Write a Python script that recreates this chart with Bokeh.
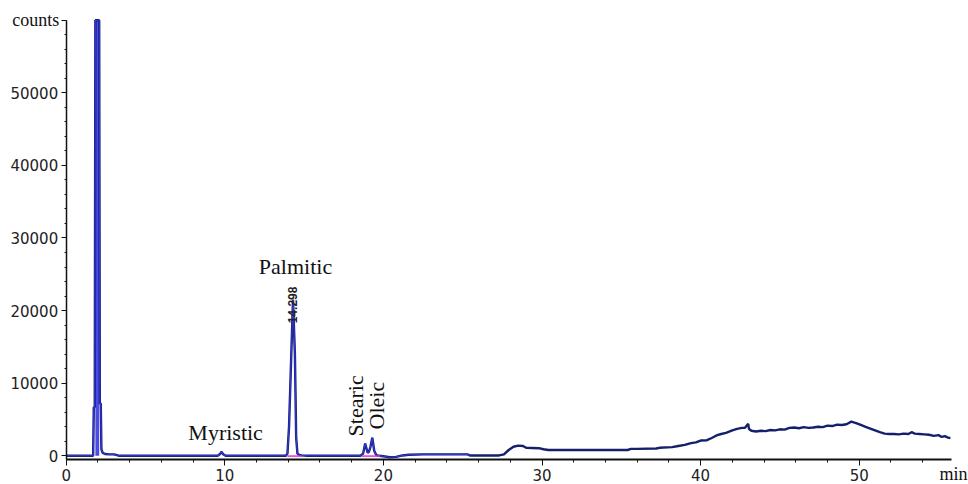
import numpy as np
from bokeh.plotting import figure
from bokeh.models import Label, FixedTicker
from bokeh.embed import file_html
from bokeh.resources import INLINE

# ---- data ----
time_min = [0, 1.0, 1.70, 1.74, 1.80, 1.84, 2.08, 2.12, 2.18, 2.22, 2.30, 2.45, 2.70, 3.00, 3.15, 3.35,
            5.0, 7.0, 9.55, 9.70, 9.80, 9.90, 10.05, 12.0,
            13.85, 13.95, 14.05, 14.15, 14.30, 14.42, 14.50, 14.58, 14.70, 14.85, 15.20, 17.0,
            18.55, 18.72, 18.85, 19.00, 19.08, 19.18, 19.30, 19.42, 19.55, 19.75,
            20.10, 20.40, 20.80, 21.20, 21.60, 22.50, 25.30, 25.45, 27.30, 27.60, 27.90,
            28.20, 28.50, 28.80, 29.00, 29.80, 30.10, 30.40, 35.40, 35.60, 36.00, 37.20,
            37.40, 38.20, 38.60, 39.00, 39.40, 39.70, 40.00, 40.40, 40.70, 41.00, 41.30,
            41.60, 42.00, 42.30, 42.60, 42.80, 43.00, 43.05, 43.20, 43.50, 43.80, 44.10,
            44.40, 44.70, 45.00, 45.30, 45.60, 45.90, 46.20, 46.50, 46.80, 47.10, 47.40,
            47.70, 48.00, 48.30, 48.60, 48.90, 49.20, 49.50, 49.80, 50.10, 50.40, 50.70,
            51.00, 51.30, 51.60, 51.90, 52.20, 52.50, 52.80, 53.10, 53.30, 53.50, 53.80,
            54.10, 54.40, 54.70, 55.00, 55.20, 55.40, 55.60, 55.75]
counts = [0, 0, 0, 6700, 6700, 90000, 90000, 7200, 7200, 900, 400, 250, 200, 200, 120, 0,
          0, 0, 0, 250, 550, 200, 0, 0,
          0, 300, 4000, 11000, 21500, 14000, 2500, 300, 120, 60, 0, 0,
          0, 300, 1700, 450, 500, 1200, 2500, 700, 100, 0,
          -100, -200, -150, 50, 150, 200, 200, 50, 50, 200, 800,
          1250, 1400, 1350, 1100, 1050, 900, 800, 800, 950, 950, 1000,
          1100, 1200, 1350, 1500, 1750, 1850, 2100, 2150, 2450, 2800, 3000,
          3150, 3500, 3700, 3850, 3850, 4400, 3700, 3450, 3350, 3450, 3400,
          3550, 3500, 3650, 3600, 3850, 3900, 3800, 3950, 3850, 3900, 4000,
          3950, 4150, 4100, 4300, 4250, 4350, 4700, 4500, 4250, 4000, 3750,
          3500, 3250, 3050, 3000, 3000, 2950, 3050, 3000, 3250, 3050, 3000,
          2950, 2900, 2750, 2850, 2600, 2700, 2500, 2450]

peak_names = ["Myristic", "Palmitic", "Stearic", "Oleic"]
peak_rt = [9.80, 14.298, 18.85, 19.30]
rt_label = "14.298"
integ_start = [13.95, 18.65]
integ_end = [14.85, 19.80]

x_ticks = [0, 10, 20, 30, 40, 50]
y_ticks = [0, 10000, 20000, 30000, 40000, 50000, 60000]
x_axis_end = 55.8
y_axis_start = -550
y_axis_end = 60000

t = np.array(time_min)
c = np.array(counts)

p = figure(width=968, height=484, x_range=(-4.142, 56.89), y_range=(-3953, 62713),
           output_backend="svg", toolbar_location=None,
           min_border_left=0, min_border_right=0, min_border_top=0, min_border_bottom=0)
p.outline_line_color = None
p.xgrid.visible = False
p.ygrid.visible = False
p.background_fill_color = "white"
p.border_fill_color = "white"

# solvent peak band fill (clipped at top of axis)
m = (t >= 1.84) & (t <= 2.08)
p.varea(x=t[m], y1=np.zeros(m.sum()), y2=np.minimum(c[m], y_axis_end), fill_color="#4a4ae6")

cc = np.minimum(c, y_axis_end)
# trace
p.line(t, cc, line_color="#14206a", line_width=2.4)
mo = t <= 27.0
p.line(t[mo], cc[mo], line_color="#3535e0", line_width=1.1)

# integration baselines
p.segment(x0=integ_start, y0=[-40, -40], x1=integ_end, y1=[-40, -40],
          line_color="#e030d0", line_width=1.5)

# axes placed at fixed data locations
xa = p.xaxis[0]
ya = p.yaxis[0]
xa.fixed_location = y_axis_start
ya.fixed_location = 0
xa.bounds = (0, x_axis_end)
ya.bounds = (y_axis_start, y_axis_end)
for ax in (xa, ya):
    ax.axis_line_color = "#111111"
    ax.major_tick_line_color = "#111111"
    ax.minor_tick_line_color = "#111111"
    ax.major_label_text_font = "DejaVu Sans"
    ax.major_label_text_font_size = "15px"
    ax.major_label_text_color = "#222222"
    ax.major_tick_in = 0
    ax.minor_tick_in = 0
xa.axis_line_width = 2
ya.axis_line_width = 1.5
xa.major_tick_out = 6
xa.minor_tick_out = 3
ya.major_tick_out = 5
ya.minor_tick_out = 2
xa.major_label_standoff = 3
ya.major_label_standoff = 3
xa.ticker = FixedTicker(ticks=x_ticks, minor_ticks=list(np.arange(0, 56, 2)))
ya.ticker = FixedTicker(ticks=y_ticks, minor_ticks=list(np.arange(0, 60001, 2000)))
ya.major_label_overrides = {60000: ""}

serif = "Liberation Serif"
ink = "#111111"
p.add_layout(Label(x=0, y=60000, x_offset=-7, text="counts", text_align="right",
                   text_baseline="alphabetic", text_font=serif, text_font_size="18px", text_color=ink))
p.add_layout(Label(x=55.95, y=-2440, text="min", text_align="center",
                   text_baseline="alphabetic", text_font=serif, text_font_size="18px", text_color=ink))

# peak labels
p.add_layout(Label(x=10.05, y=3214, text=peak_names[0], text_align="center", text_baseline="alphabetic",
                   text_font=serif, text_font_size="22px", text_color=ink))
p.add_layout(Label(x=14.46, y=26114, text=peak_names[1], text_align="center", text_baseline="alphabetic",
                   text_font=serif, text_font_size="22px", text_color=ink))
p.add_layout(Label(x=18.24, y=2670, text=peak_names[2], angle=np.pi / 2, text_align="left",
                   text_baseline="alphabetic", text_font=serif, text_font_size="22px", text_color=ink))
p.add_layout(Label(x=19.56, y=3625, text=peak_names[3], angle=np.pi / 2, text_align="left",
                   text_baseline="alphabetic", text_font=serif, text_font_size="22px", text_color=ink))
p.add_layout(Label(x=peak_rt[1], y=18250, text=rt_label, angle=np.pi / 2, text_align="left",
                   text_baseline="alphabetic", text_font="Liberation Sans", text_font_style="bold",
                   text_font_size="12px", text_color="#222222"))

open("out.html", "w").write(file_html(p, INLINE))
